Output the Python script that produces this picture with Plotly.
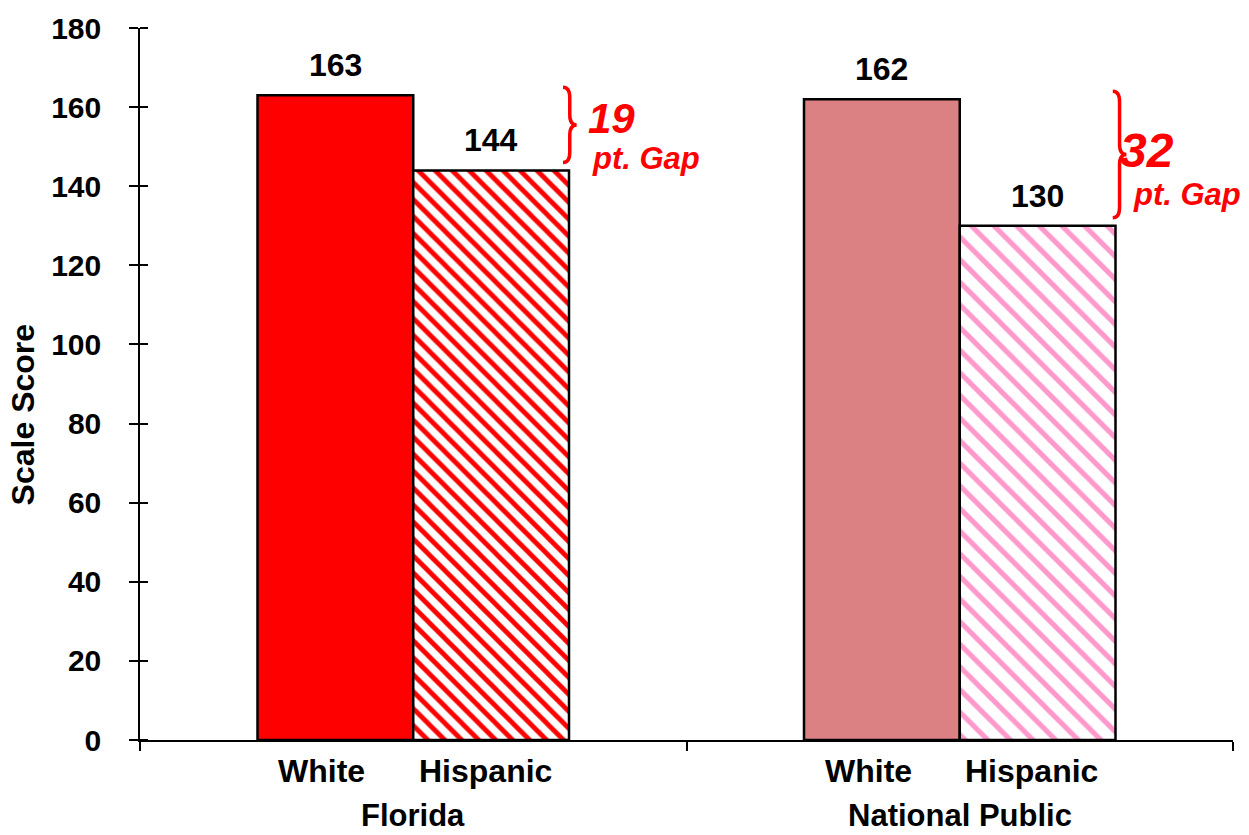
import plotly.graph_objects as go

# ---- data ----
groups = ["Florida", "National Public"]
subgroups = ["White", "Hispanic"]
white_scores = [163, 162]
hispanic_scores = [144, 130]
y_ticks = [0, 20, 40, 60, 80, 100, 120, 140, 160, 180]

# ---- styles ----
FONT = "Arial, Liberation Sans, sans-serif"
white_colors = ["#FF0000", "#DB8083"]
hisp_colors = ["#FF0000", "#FF99CC"]
hisp_sizes = [12, 16]
hisp_solid = [0.4, 0.32]
RED = "#FF0000"
LBL = 32

BARGAP = 0.43
half = (1 - BARGAP) / 2  # width of each bar in category units

fig = go.Figure()
fig.add_trace(go.Bar(
    x=groups, y=white_scores, name=subgroups[0],
    marker=dict(color=white_colors, line=dict(color="black", width=2.5)),
))
fig.add_trace(go.Bar(
    x=groups, y=hispanic_scores, name=subgroups[1],
    marker=dict(color="white", line=dict(color="black", width=2.5),
                pattern=dict(shape="\\", fgcolor=hisp_colors, bgcolor="white",
                             size=hisp_sizes, solidity=hisp_solid, fillmode="replace")),
))

annotations = []
# value labels above bars
for gi, g in enumerate(groups):
    for si, vals in enumerate([white_scores, hispanic_scores]):
        xc = gi + (-half / 2 if si == 0 else half / 2)
        annotations.append(dict(x=xc, y=vals[gi], xref="x", yref="y", text=f"<b>{vals[gi]}</b>",
                                showarrow=False, yanchor="bottom", yshift=10,
                                font=dict(family=FONT, size=LBL, color="black")))
# subgroup labels
sub_offsets = [-0.167, 0.132]
for gi, g in enumerate(groups):
    for si, s in enumerate(subgroups):
        annotations.append(dict(x=gi + sub_offsets[si], y=-0.0435, xref="x", yref="paper",
                                text=f"<b>{s}</b>", showarrow=False, yanchor="middle",
                                font=dict(family=FONT, size=LBL, color="black")))
# group labels
for gi, g in enumerate(groups):
    annotations.append(dict(x=gi, y=-0.106, xref="x", yref="paper", text=f"<b>{g}</b>",
                            showarrow=False, yanchor="middle",
                            font=dict(family=FONT, size=31, color="black")))
# y title
annotations.append(dict(x=-0.107, y=0.456, xref="paper", yref="paper", text="<b>Scale Score</b>",
                        textangle=-90, showarrow=False, xanchor="center", yanchor="middle",
                        font=dict(family=FONT, size=LBL, color="black")))

# gap braces + texts
brace_x = [0.387, 0.890]
gap_num_pos = [(0.408, 157.2, 42), (0.895, 149.1, 48)]
gap_txt_pos = [(0.412, 147.1), (0.907, 137.8)]
shapes = []
for gi in range(len(groups)):
    top = white_scores[gi] + 2
    bot = hispanic_scores[gi] + 2
    mid = (top + bot) / 2
    xl = brace_x[gi]
    xm = xl + 0.0062
    xt = xl + 0.0125
    d = 2.6
    path = (f"M {xl},{top} Q {xm},{top} {xm},{top - d} L {xm},{mid + d} "
            f"Q {xm},{mid} {xt},{mid} Q {xm},{mid} {xm},{mid - d} "
            f"L {xm},{bot + d} Q {xm},{bot} {xl},{bot}")
    shapes.append(dict(type="path", path=path, xref="paper", yref="y",
                       line=dict(color=RED, width=3.5)))
    gap = white_scores[gi] - hispanic_scores[gi]
    nx, ny, ns = gap_num_pos[gi]
    annotations.append(dict(x=nx, y=ny, xref="paper", yref="y", text=f"<b><i>{gap}</i></b>",
                            showarrow=False, xanchor="left", yanchor="middle",
                            font=dict(family=FONT, size=ns, color=RED)))
    tx, ty = gap_txt_pos[gi]
    annotations.append(dict(x=tx, y=ty, xref="paper", yref="y", text="<b><i>pt. Gap</i></b>",
                            showarrow=False, xanchor="left", yanchor="middle",
                            font=dict(family=FONT, size=31, color=RED)))

fig.update_layout(
    width=1249, height=835,
    margin=dict(l=140, r=16, t=28, b=95),
    paper_bgcolor="white", plot_bgcolor="white",
    barmode="group", bargap=BARGAP, bargroupgap=0,
    showlegend=False,
    annotations=annotations, shapes=shapes,
    font=dict(family=FONT, color="black"),
)
fig.update_xaxes(
    type="category", range=[-0.5, 1.5], showgrid=False, zeroline=False,
    showline=True, linecolor="black", linewidth=1.5,
    ticks="outside", ticklen=9, tickcolor="black", tickwidth=1.5, tickson="boundaries",
    showticklabels=False,
)
fig.update_yaxes(
    range=[0, 180], tickvals=y_ticks, showgrid=False, zeroline=False,
    showline=True, linecolor="black", linewidth=1.5,
    ticks="outside", ticklen=9, tickcolor="black", tickwidth=1.5,
    minor=dict(tickvals=y_ticks, ticks="inside", ticklen=8, tickcolor="black", tickwidth=1.5),
    tickfont=dict(family=FONT, size=30, color="black", weight="bold"),
    ticklabelstandoff=22,
)

fig.write_html("out.html", config={"displayModeBar": False},
               post_script="document.body.style.margin='0';document.body.style.overflow='hidden';")
